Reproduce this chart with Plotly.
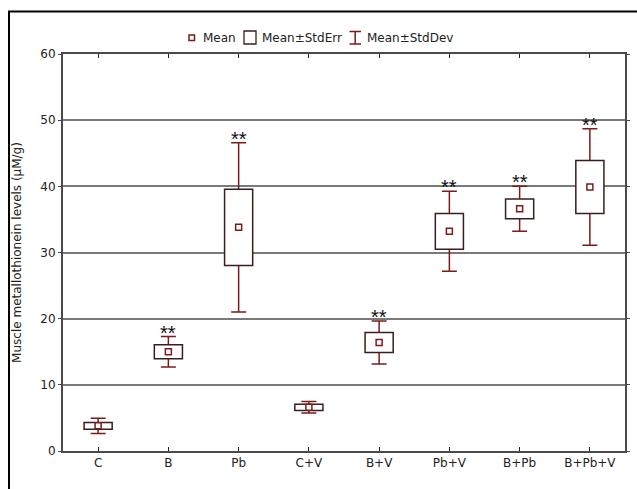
import plotly.graph_objects as go

categories = ["C", "B", "Pb", "C+V", "B+V", "Pb+V", "B+Pb", "B+Pb+V"]
mean_vals = [3.8, 15.0, 33.8, 6.6, 16.4, 33.2, 36.6, 39.9]
std_err = [0.5, 1.05, 5.75, 0.47, 1.5, 2.7, 1.5, 4.0]
std_dev = [1.15, 2.3, 12.8, 0.87, 3.25, 6.05, 3.4, 8.8]
significance = ["", "**", "**", "", "**", "**", "**", "**"]
y_ticks = [0, 10, 20, 30, 40, 50, 60]
y_title = "Muscle metallothionein levels (\u00b5M/g)"
legend_labels = ["Mean", "Mean\u00b1StdErr", "Mean\u00b1StdDev"]

W, H = 637, 489
ML, MR, MT, MB = 63, 12, 54, 38
PW, PH = W - ML - MR, H - MT - MB

def px(x):
    return (x - ML) / PW

def py(y):
    return 1 + (MT - y) / PH

WHISK = "#7a1c1c"
BOXC = "#3a1e1e"
FONT = "DejaVu Sans, Liberation Sans, Arial, sans-serif"

se_lo = [m - s for m, s in zip(mean_vals, std_err)]
sd_hi = [m + s for m, s in zip(mean_vals, std_dev)]

fig = go.Figure()

# SD whiskers: error bars centred on the mean (carrier bar is invisible)
fig.add_trace(go.Bar(
    x=categories, y=mean_vals, width=0.4,
    marker=dict(color="rgba(0,0,0,0)", line=dict(width=0)),
    error_y=dict(type="data", array=std_dev, symmetric=True,
                 color=WHISK, thickness=1.5, width=7.5),
    showlegend=False, hoverinfo="skip",
))

# SE boxes drawn over the whiskers
fig.add_trace(go.Bar(
    x=categories,
    y=[2 * s for s in std_err],
    base=se_lo,
    width=0.4,
    marker=dict(color="white", line=dict(color=BOXC, width=1.5)),
    showlegend=False, hoverinfo="skip",
))

# Means
fig.add_trace(go.Scatter(
    x=categories, y=mean_vals, mode="markers",
    marker=dict(symbol="square", size=6, color="white",
                line=dict(color=WHISK, width=1.5)),
    showlegend=False, hoverinfo="skip",
))

annotations = []
for c, hi, s in zip(categories, sd_hi, significance):
    if s:
        annotations.append(dict(
            x=c, y=hi, xref="x", yref="y", text=s, showarrow=False,
            yanchor="bottom", yshift=-9,
            font=dict(family="Liberation Sans, Arial", size=20, color="#111"),
        ))

# legend (manual)
leg_y = py(37.7)
LFONT = dict(family=FONT, size=12, color="#222")
for xpos, lab in zip([201, 260, 364.5], legend_labels):
    annotations.append(dict(x=px(xpos), y=leg_y, xref="paper", yref="paper",
                            text=lab, showarrow=False, xanchor="left",
                            yanchor="middle", font=LFONT))

shapes = [
    # outer frame
    dict(type="rect", xref="paper", yref="paper",
         x0=px(9), x1=px(700), y0=py(560), y1=py(11.5),
         line=dict(color="black", width=2), fillcolor="rgba(0,0,0,0)"),
    # legend mean marker
    dict(type="rect", xref="paper", yref="paper",
         x0=px(189), x1=px(194.5), y0=py(40.5), y1=py(35),
         line=dict(color=WHISK, width=1.5), fillcolor="white"),
    # legend box
    dict(type="rect", xref="paper", yref="paper",
         x0=px(244), x1=px(256), y0=py(44), y1=py(31),
         line=dict(color=BOXC, width=1.3), fillcolor="white"),
    # legend I-beam
    dict(type="path", xref="paper", yref="paper",
         path=(f"M {px(349.5)},{py(31.5)} L {px(361)},{py(31.5)} "
               f"M {px(355.2)},{py(31.5)} L {px(355.2)},{py(44)} "
               f"M {px(349.5)},{py(44)} L {px(361)},{py(44)}"),
         line=dict(color=WHISK, width=1.5)),
]

fig.update_layout(
    width=W, height=H,
    margin=dict(l=ML, r=MR, t=MT, b=MB, pad=0),
    paper_bgcolor="white", plot_bgcolor="white",
    showlegend=False,
    barmode="overlay",
    font=dict(family=FONT, size=12, color="#222"),
    annotations=annotations,
    shapes=shapes,
    xaxis=dict(
        type="category", categoryorder="array", categoryarray=categories,
        range=[-0.5, len(categories) - 0.5],
        showline=True, linecolor="#4a4a4a", linewidth=2, mirror="ticks",
        ticks="inside", ticklen=4, tickwidth=1.2, tickcolor="#222",
        showgrid=False, zeroline=False,
        tickfont=dict(family=FONT, size=12, color="#222"),
    ),
    yaxis=dict(
        range=[0, 60], tickvals=y_ticks,
        showline=True, linecolor="#4a4a4a", linewidth=2, mirror="ticks",
        ticks="outside", ticklen=3, tickwidth=1.2, tickcolor="#4a4a4a",
        showgrid=True, gridcolor="#7a7a7a", gridwidth=1.6,
        zeroline=False,
        tickfont=dict(family=FONT, size=12, color="#222"),
        title=dict(text=y_title, standoff=16,
                   font=dict(family=FONT, size=12, color="#222")),
        automargin=False,
    ),
)

fig.write_html("out.html")
